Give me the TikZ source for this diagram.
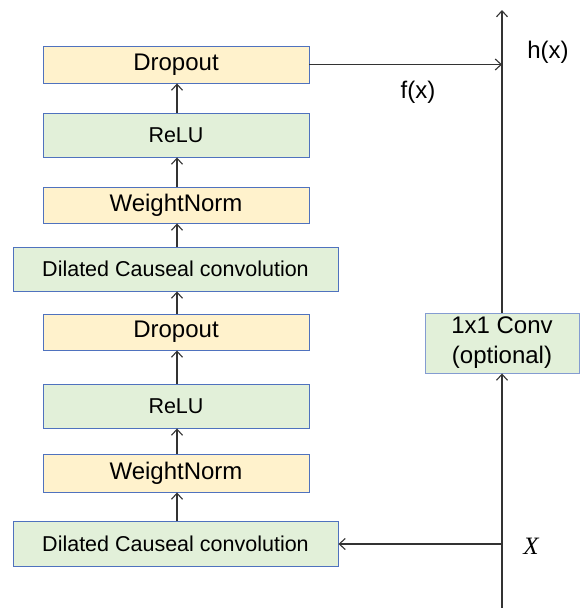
\documentclass[tikz,border=0pt]{standalone}
\usepackage{fontspec}
\setmainfont{Liberation Sans}
\newfontfamily\timesfont{Liberation Serif}
\usetikzlibrary{arrows.meta}
\definecolor{orfill}{HTML}{FFF2CC}
\definecolor{grfill}{HTML}{E2F0D9}
\definecolor{bxline}{HTML}{4F72BE}
\definecolor{lnc}{HTML}{333333}
\tikzset{
  blk/.style={draw=bxline, line width=0.9pt, inner sep=0pt, anchor=center},
  orblk/.style={blk, fill=orfill, minimum width=266pt},
  grblk/.style={blk, fill=grfill, minimum width=266pt},
  wideblk/.style={blk, fill=grfill, minimum width=325pt},
  big/.style={font=\fontsize{24}{28}\selectfont},
  mid/.style={font=\fontsize{21.5}{26}\selectfont},
  conn/.style={draw=lnc, line width=1.2pt, -{Straight Barb[length=6pt,width=11pt,line width=1.1pt]}},
  plain/.style={draw=lnc, line width=1.2pt},
}
\begin{document}
\begin{tikzpicture}[x=1pt,y=-1pt]
\useasboundingbox (0,0) rectangle (585,608);
\fill[white] (0,0) rectangle (585,608);
\node[orblk, big, minimum height=37pt] (d1) at (176,64.5) {Dropout};
\node[grblk, mid, minimum height=44pt] (r1) at (176,135) {ReLU};
\node[orblk, big, minimum height=36pt] (w1) at (176,205) {WeightNorm};
\node[wideblk, mid, minimum height=44pt] (c1) at (175.5,269) {Dilated Causeal convolution};
\node[orblk, big, minimum height=36pt] (d2) at (176,332) {Dropout};
\node[grblk, mid, minimum height=44pt] (r2) at (176,406) {ReLU};
\node[orblk, big, minimum height=38pt] (w2) at (176,473) {WeightNorm};
\node[wideblk, mid, minimum height=45pt] (c2) at (175.5,544) {Dilated Causeal convolution};
\node[blk, fill=grfill, draw=bxline!70, minimum width=154pt, minimum height=60pt, align=center, font=\fontsize{24}{30}\selectfont] (cv) at (502,343) {1x1 Conv\\(optional)};
\coordinate (top) at (502,10);
\coordinate (bot) at (502,608);
\coordinate (xin) at (502,544);
\node[big, anchor=center] (hx) at (548,52) {h(x)};
\node[big, anchor=center] (fx) at (418,92) {f(x)};
\node[font=\fontsize{25}{28}\selectfont\timesfont\itshape, anchor=center] (xl) at (531,546) {X};
\foreach \a/\b in {c2/w2, w2/r2, r2/d2, d2/c1, c1/w1, w1/r1, r1/d1}
  \draw[conn] (\a.north -| 177,0) -- (\b.south -| 177,0);
\draw[conn] (d1.east) -- (d1.east -| top);
\draw[conn] (bot) -- (cv.south);
\draw[conn] (cv.north) -- (top);
\draw[conn] (xin) -- (c2.east);
\end{tikzpicture}
\end{document}
